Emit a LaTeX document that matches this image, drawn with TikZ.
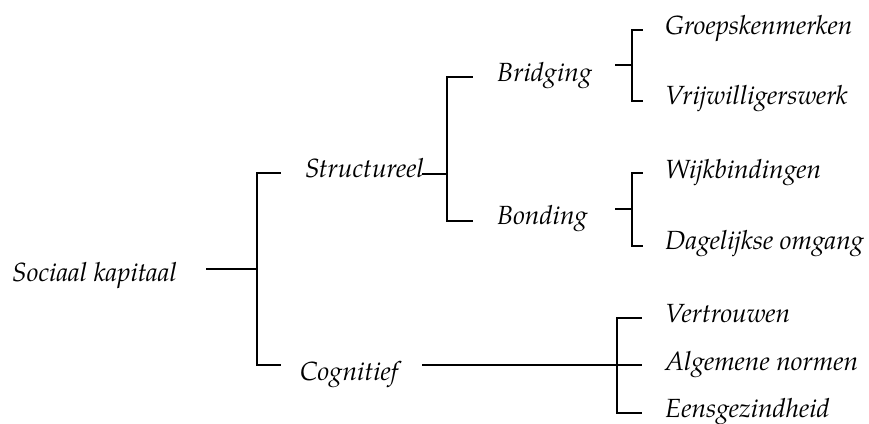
\documentclass[tikz,border=0pt]{standalone}
\usepackage{fontspec}
\setmainfont{TeX Gyre Pagella}
\begin{document}
\begin{tikzpicture}[x=1pt,y=-1pt,
  lbl/.style={anchor=base west, inner sep=0pt, font=\itshape\fontsize{26.3}{30}\selectfont},
  br/.style={line width=2pt, line cap=rect}]
\useasboundingbox (0,0) rectangle (869,423);
% labels
\node[lbl] (sk) at (12,281) {Sociaal kapitaal};
\node[lbl] (st) at (305,177) {Structureel};
\node[lbl] (co) at (300,380) {Cognitief};
\node[lbl] (bri) at (497,81) {Bridging};
\node[lbl] (bon) at (497,224) {Bonding};
\node[lbl] (gr) at (665,34) {Groepskenmerken};
\node[lbl] (vr) at (665,104) {Vrijwilligerswerk};
\node[lbl] (wi) at (665,178) {Wijkbindingen};
\node[lbl] (da) at (665,249) {Dagelijkse omgang};
\node[lbl] (ve) at (665,322) {Vertrouwen};
\node[lbl] (al) at (665,370) {Algemene normen};
\node[lbl] (ee) at (665,417) {Eensgezindheid};
% bracket points
\coordinate (skA) at (207,269);
\coordinate (skJ) at (257,269);
\coordinate (skT) at (257,173);
\coordinate (skB) at (257,365);
\coordinate (skTe) at (280,173);
\coordinate (skBe) at (280,365);
\coordinate (stA) at (423,174);
\coordinate (stJ) at (447,174);
\coordinate (stT) at (447,77);
\coordinate (stB) at (447,221);
\coordinate (stTe) at (472,77);
\coordinate (stBe) at (472,221);
\coordinate (brA) at (616,65);
\coordinate (brJ) at (632,65);
\coordinate (brT) at (632,30);
\coordinate (brB) at (632,101);
\coordinate (brTe) at (642,30);
\coordinate (brBe) at (642,101);
\coordinate (boA) at (616,209);
\coordinate (boJ) at (632,209);
\coordinate (boT) at (632,173);
\coordinate (boB) at (632,246);
\coordinate (boTe) at (642,173);
\coordinate (boBe) at (642,246);
\coordinate (coA) at (423,365);
\coordinate (coJ) at (617,365);
\coordinate (coT) at (617,318);
\coordinate (coB) at (617,413);
\coordinate (coTe) at (641,318);
\coordinate (coMe) at (641,365);
\coordinate (coBe) at (641,413);
% connectors
\draw[br] (skA) -- (skJ);
\draw[br] (skTe) -- (skT) -- (skB) -- (skBe);
\draw[br] (stA) -- (stJ);
\draw[br] (stTe) -- (stT) -- (stB) -- (stBe);
\draw[br] (brA) -- (brJ);
\draw[br] (brTe) -- (brT) -- (brB) -- (brBe);
\draw[br] (boA) -- (boJ);
\draw[br] (boTe) -- (boT) -- (boB) -- (boBe);
\draw[br] (coA) -- (coMe);
\draw[br] (coTe) -- (coT) -- (coB) -- (coBe);
\end{tikzpicture}
\end{document}
